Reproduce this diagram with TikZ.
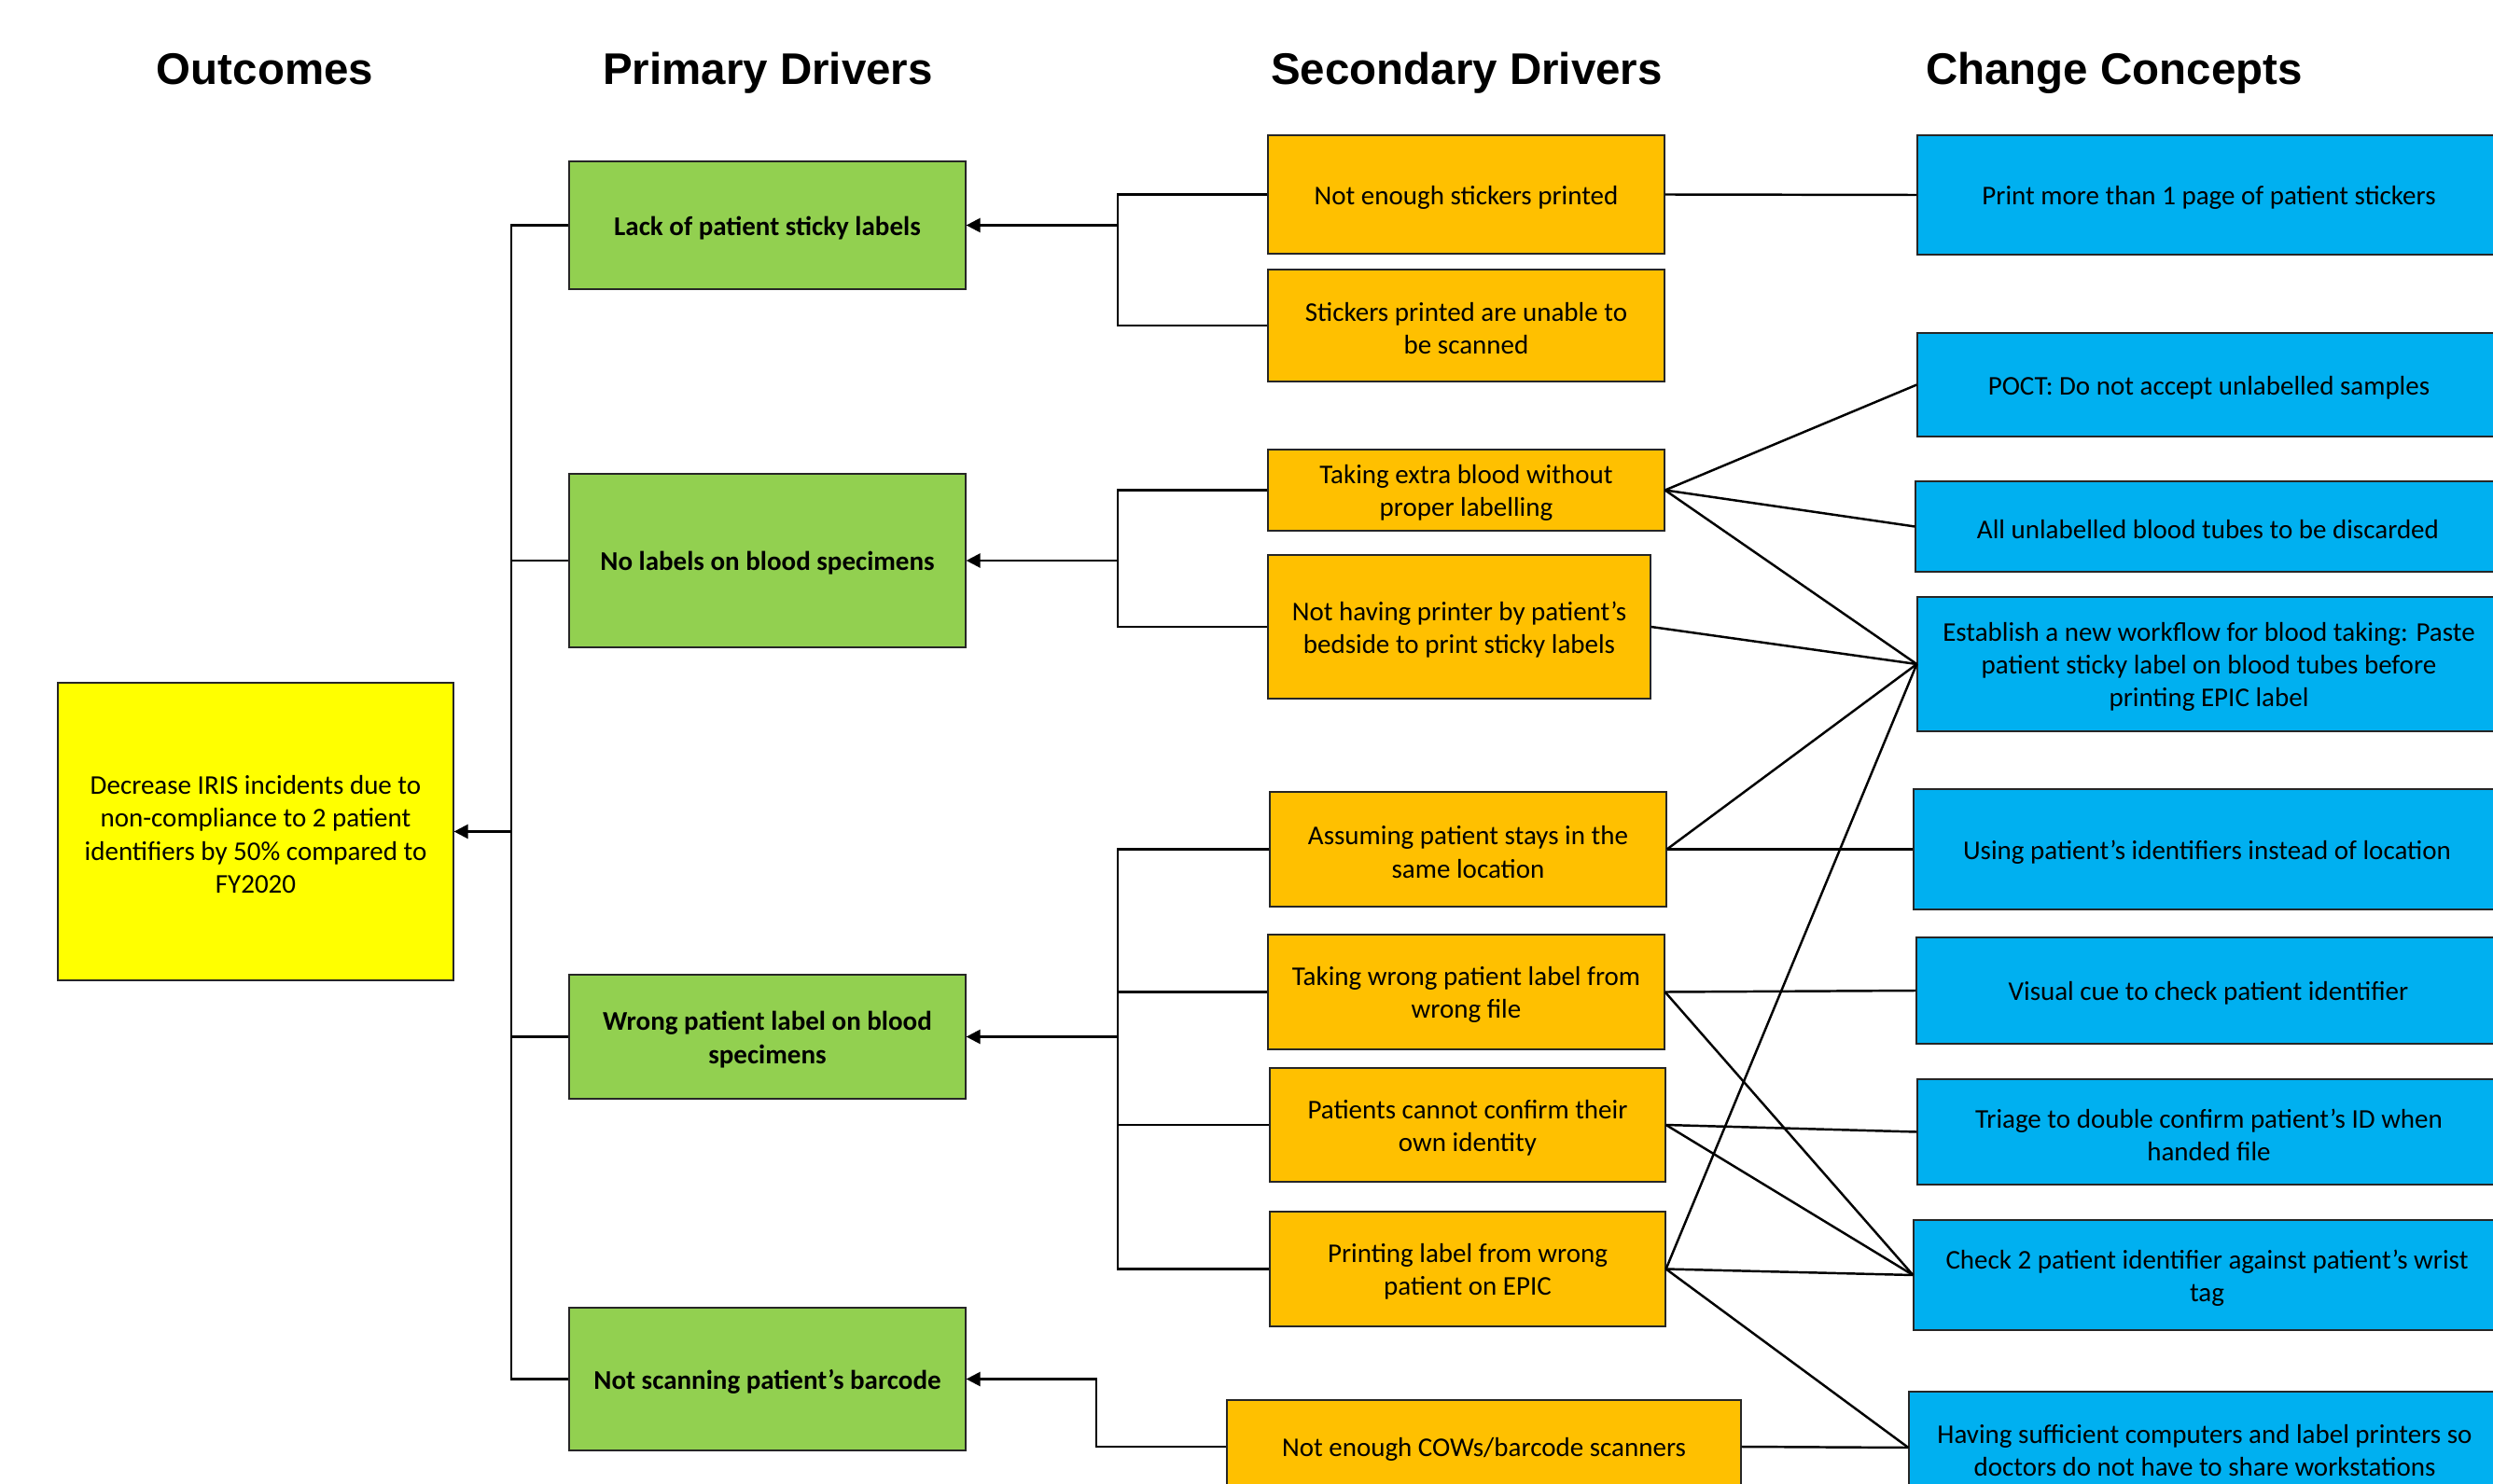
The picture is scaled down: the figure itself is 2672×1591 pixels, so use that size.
\documentclass[tikz,border=0pt]{standalone}
\usepackage{fontspec}
\setmainfont{Carlito}
\newfontfamily\headfont{Liberation Sans}
\usetikzlibrary{arrows.meta}
\definecolor{cyellow}{HTML}{FFFF00}
\definecolor{cgreen}{HTML}{92D050}
\definecolor{corange}{HTML}{FFC000}
\definecolor{cblue}{HTML}{00B0F0}
\definecolor{cborder}{HTML}{262626}
\newcommand\mkbox[7]{\node[#6box, minimum width={(#4-#2)*0.01cm}, minimum height={(#5-#3)*0.01cm}, label={[#6text]center:{#7}}] (#1) at ({(#2+#4)/2},{(#3+#5)/2}) {};}
\tikzset{
  basebox/.style={draw=cborder, line width=0.35pt, inner sep=0pt},
  basetext/.style={inner sep=0pt, align=center, yshift=-0.03cm, font=\fontsize{8.25}{10}\selectfont},
  outbox/.style={basebox, fill=cyellow},
  outtext/.style={basetext},
  primbox/.style={basebox, fill=cgreen},
  primtext/.style={basetext, font=\bfseries\fontsize{8.25}{10}\selectfont},
  secbox/.style={basebox, fill=corange},
  sectext/.style={basetext},
  conbox/.style={basebox, fill=cblue},
  context/.style={basetext},
  header/.style={font=\headfont\bfseries\fontsize{13.5}{16}\selectfont, anchor=base},
  busline/.style={line width=0.65pt, draw=black},
  arr/.style={line width=0.7pt, draw=black, -{Triangle[length=4.3pt, width=4.3pt]}},
  conline/.style={line width=0.7pt, draw=black}
}
\begin{document}
\begin{tikzpicture}[x=0.01cm, y=-0.01cm]
\useasboundingbox (0,0) rectangle (2672,1591);
\fill[white] (0,0) rectangle (2672,1591);
\clip (0,0) rectangle (2672,1591);
% headers
\node[header] (h1) at (284,91) {Outcomes};
\node[header] (h2) at (823,91) {Primary Drivers};
\node[header] (h3) at (1572,91) {Secondary Drivers};
\node[header] (h4) at (2266,91) {Change Concepts};
% outcome
\mkbox{O}{62}{732}{486}{1051}{out}{Decrease IRIS incidents due to\\non-compliance to 2 patient\\identifiers by 50\% compared to\\FY2020}
% primary
\mkbox{P1}{610}{173}{1035}{310}{prim}{Lack of patient sticky labels}
\mkbox{P2}{610}{508}{1035}{694}{prim}{No labels on blood specimens}
\mkbox{P3}{610}{1045}{1035}{1178}{prim}{Wrong patient label on blood\\specimens}
\mkbox{P4}{610}{1402}{1035}{1555}{prim}{Not scanning patient’s barcode}
% secondary
\mkbox{S1}{1359}{145}{1784}{272}{sec}{Not enough stickers printed}
\mkbox{S2}{1359}{289}{1784}{409}{sec}{Stickers printed are unable to\\be scanned}
\mkbox{S3}{1359}{482}{1784}{569}{sec}{Taking extra blood without\\proper labelling}
\mkbox{S4}{1359}{595}{1769}{749}{sec}{Not having printer by patient’s\\bedside to print sticky labels}
\mkbox{S5}{1361}{849}{1786}{972}{sec}{Assuming patient stays in the\\same location}
\mkbox{S6}{1359}{1002}{1784}{1125}{sec}{Taking wrong patient label from\\wrong file}
\mkbox{S7}{1361}{1145}{1785}{1267}{sec}{Patients cannot confirm their\\own identity}
\mkbox{S8}{1361}{1299}{1785}{1422}{sec}{Printing label from wrong\\patient on EPIC}
\mkbox{S9}{1315}{1501}{1866}{1601}{sec}{Not enough COWs/barcode scanners}
% change concepts
\mkbox{C1}{2055}{145}{2680}{273}{con}{Print more than 1 page of patient stickers}
\mkbox{C2}{2055}{357}{2680}{468}{con}{POCT: Do not accept unlabelled samples}
\mkbox{C3}{2053}{516}{2680}{613}{con}{All unlabelled blood tubes to be discarded}
\mkbox{C4}{2055}{640}{2680}{784}{con}{Establish a new workflow for blood taking: Paste\\patient sticky label on blood tubes before\\printing EPIC label}
\mkbox{C5}{2051}{846}{2680}{975}{con}{Using patient’s identifiers instead of location}
\mkbox{C6}{2054}{1005}{2680}{1119}{con}{Visual cue to check patient identifier}
\mkbox{C7}{2055}{1157}{2680}{1270}{con}{Triage to double confirm patient’s ID when\\handed file}
\mkbox{C8}{2051}{1308}{2680}{1426}{con}{Check 2 patient identifier against patient’s wrist\\tag}
\mkbox{C9}{2046}{1492}{2680}{1612}{con}{Having sufficient computers and label printers so\\doctors do not have to share workstations}
% coordinates for buses
\coordinate (bus) at (548,0);
\coordinate (br) at (1198,0);
\coordinate (br2) at (1175,0);
% outcome bus
\draw[busline] (P1.west) -- (P1.west -| bus) -- (P4.west -| bus) -- (P4.west);
\draw[busline] (P2.west) -- (P2.west -| bus);
\draw[busline] (P3.west) -- (P3.west -| bus);
\draw[arr] (O.east -| bus) -- (O.east);
% secondary brackets
\draw[busline] (S1.west) -- (S1.west -| br) -- (S2.west -| br) -- (S2.west);
\draw[arr] (P1.east -| br) -- (P1.east);
\draw[busline] (S3.west) -- (S3.west -| br) -- (S4.west -| br) -- (S4.west);
\draw[arr] (P2.east -| br) -- (P2.east);
\draw[busline] (S5.west) -- (S5.west -| br) -- (S8.west -| br) -- (S8.west);
\draw[busline] (S6.west) -- (S6.west -| br);
\draw[busline] (S7.west) -- (S7.west -| br);
\draw[arr] (P3.east -| br) -- (P3.east);
\draw[arr] (S9.west) -- (S9.west -| br2) -- (P4.east -| br2) -- (P4.east);
% concept links
\draw[conline] (S1.east) -- (C1.west);
\draw[conline] (S3.east) -- (C2.west);
\draw[conline] (S3.east) -- (C3.west);
\draw[conline] (S3.east) -- (C4.west);
\draw[conline] (S4.east) -- (C4.west);
\draw[conline] (S5.east) -- (C4.west);
\draw[conline] (S5.east) -- (C5.west);
\draw[conline] (S8.east) -- (C4.west);
\draw[conline] (S6.east) -- (C6.west);
\draw[conline] (S6.east) -- (C8.west);
\draw[conline] (S7.east) -- (C7.west);
\draw[conline] (S7.east) -- (C8.west);
\draw[conline] (S8.east) -- (C8.west);
\draw[conline] (S8.east) -- (C9.west);
\draw[conline] (S9.east) -- (C9.west);
\end{tikzpicture}
\end{document}
